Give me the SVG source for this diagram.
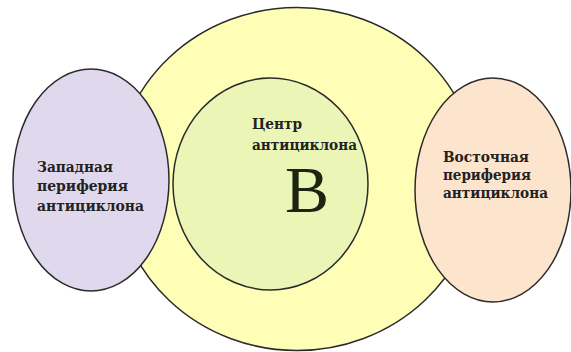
<svg xmlns="http://www.w3.org/2000/svg" width="571" height="352" viewBox="0 0 571 352">
<style>
.sh{stroke:#2b2b2b;stroke-width:1.5}
.t{font-family:"DejaVu Serif Condensed","DejaVu Serif","Liberation Serif",serif;font-size:14px;font-weight:bold;fill:#222222}
.big{font-family:"Liberation Serif","Times New Roman",serif;font-size:66px;fill:#1d2410}
</style>
<rect width="571" height="352" fill="#ffffff"/>
<g id="outer">
<ellipse class="sh" cx="297" cy="179" rx="181" ry="171.5" fill="#fefeb6"/>
</g>
<g id="center">
<ellipse class="sh" cx="270.5" cy="184" rx="97.5" ry="106" fill="#ebf5b6"/>
<text class="t" x="252" y="129" textLength="50" lengthAdjust="spacingAndGlyphs">Центр</text>
<text class="t" x="252" y="150" textLength="105" lengthAdjust="spacingAndGlyphs">антициклона</text>
<text class="big" x="285" y="212">B</text>
</g>
<g id="west">
<ellipse class="sh" cx="91" cy="180" rx="78" ry="111" fill="#e0d9ee"/>
<text class="t" x="37" y="172" textLength="76" lengthAdjust="spacingAndGlyphs">Западная</text>
<text class="t" x="37" y="191" textLength="91" lengthAdjust="spacingAndGlyphs">периферия</text>
<text class="t" x="37" y="211" textLength="107" lengthAdjust="spacingAndGlyphs">антициклона</text>
</g>
<g id="east">
<ellipse class="sh" cx="493" cy="190" rx="78" ry="112" fill="#fde4cd"/>
<text class="t" x="443" y="162" textLength="86" lengthAdjust="spacingAndGlyphs">Восточная</text>
<text class="t" x="443" y="180" textLength="88" lengthAdjust="spacingAndGlyphs">периферия</text>
<text class="t" x="443" y="198" textLength="105" lengthAdjust="spacingAndGlyphs">антициклона</text>
</g>
<g id="connectors"/>
</svg>
